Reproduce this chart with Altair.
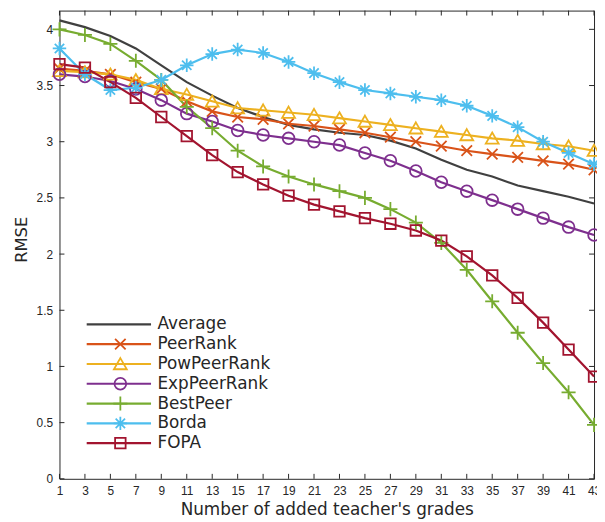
import altair as alt
import pandas as pd

# ---- data ----
x_vals = list(range(1, 44, 2))
series_names = ["Average", "PeerRank", "PowPeerRank", "ExpPeerRank", "BestPeer", "Borda", "FOPA"]

average = [4.08, 4.02, 3.94, 3.83, 3.68, 3.53, 3.41, 3.30, 3.22, 3.15, 3.11,
           3.08, 3.06, 3.01, 2.94, 2.84, 2.75, 2.69, 2.61, 2.56, 2.51, 2.45]
peerrank = [3.65, 3.63, 3.60, 3.53, 3.47, 3.36, 3.27, 3.22, 3.20, 3.16, 3.14,
            3.11, 3.08, 3.04, 3.00, 2.96, 2.92, 2.89, 2.86, 2.83, 2.80, 2.75]
powpeerrank = [3.63, 3.62, 3.60, 3.55, 3.47, 3.42, 3.36, 3.30, 3.28, 3.26, 3.24,
               3.21, 3.18, 3.15, 3.12, 3.09, 3.06, 3.03, 3.01, 2.98, 2.96, 2.92]
exppeerrank = [3.60, 3.58, 3.54, 3.47, 3.37, 3.25, 3.18, 3.10, 3.06, 3.03, 3.00,
               2.97, 2.90, 2.83, 2.74, 2.64, 2.56, 2.48, 2.40, 2.32, 2.24, 2.17]
bestpeer = [4.00, 3.95, 3.87, 3.72, 3.55, 3.31, 3.12, 2.92, 2.78, 2.69, 2.62,
            2.56, 2.50, 2.40, 2.28, 2.10, 1.86, 1.58, 1.30, 1.03, 0.77, 0.48]
borda = [3.83, 3.60, 3.46, 3.48, 3.55, 3.68, 3.78, 3.82, 3.79, 3.71, 3.61,
         3.53, 3.46, 3.43, 3.40, 3.37, 3.32, 3.23, 3.13, 3.00, 2.90, 2.80]
fopa = [3.69, 3.66, 3.53, 3.39, 3.22, 3.05, 2.88, 2.73, 2.62, 2.52, 2.44,
        2.38, 2.32, 2.27, 2.21, 2.12, 1.98, 1.81, 1.61, 1.39, 1.15, 0.91]

y_ticks = [0, 0.5, 1, 1.5, 2, 2.5, 3, 3.5, 4]

colors = ["#404040", "#D95319", "#EDB120", "#7E2F8E", "#77AC30", "#4DBEEE", "#A2142F"]
shapes = [
    "M0,0",
    "M-0.9,-0.9L0.9,0.9M-0.9,0.9L0.9,-0.9",
    "M0,-1L1.1,0.9L-1.1,0.9Z",
    "circle",
    "M-1.2,0L1.2,0M0,-1.2L0,1.2",
    "M-1.15,0L1.15,0M0,-1.15L0,1.15M-0.8,-0.8L0.8,0.8M-0.8,0.8L0.8,-0.8",
    "M-0.9,-0.9L0.9,-0.9L0.9,0.9L-0.9,0.9Z",
]

all_series = [average, peerrank, powpeerrank, exppeerrank, bestpeer, borda, fopa]
rows = []
for name, vals in zip(series_names, all_series):
    for xv, yv in zip(x_vals, vals):
        rows.append({"x": xv, "rmse": yv, "series": name, "series2": name})
df = pd.DataFrame(rows)

W, H = 540, 473
AX = "#262626"
FONT = "Liberation Sans"
WIDE = "DejaVu Sans"

xscale = alt.Scale(domain=[1, 43], nice=False, zero=False)
yscale = alt.Scale(domain=[0, 4.167], nice=False, zero=False)

x_axis = alt.Axis(values=x_vals, format="d", title="Number of added teacher's grades",
                  labelFlush=False, labelOverlap=False, labelPadding=7, titlePadding=5,
                  titleFontSize=17)
y_axis = alt.Axis(values=y_ticks, format="~g", title="RMSE", labelPadding=7, titlePadding=7,
                  titleFontSize=16.5, titleY=231)

xt = pd.DataFrame({"x": x_vals})
yt = pd.DataFrame({"rmse": y_ticks})

tick_x_bottom = alt.Chart(xt).mark_rule(color=AX, strokeWidth=1).encode(
    x=alt.X("x:Q", scale=xscale, axis=x_axis), y=alt.value(H), y2=alt.value(H - 5))
tick_x_top = alt.Chart(xt).mark_rule(color=AX, strokeWidth=1).encode(
    x=alt.X("x:Q", scale=xscale, axis=x_axis), y=alt.value(0), y2=alt.value(5))
tick_y_left = alt.Chart(yt).mark_rule(color=AX, strokeWidth=1).encode(
    y=alt.Y("rmse:Q", scale=yscale, axis=y_axis), x=alt.value(0), x2=alt.value(5))
tick_y_right = alt.Chart(yt).mark_rule(color=AX, strokeWidth=1).encode(
    y=alt.Y("rmse:Q", scale=yscale, axis=y_axis), x=alt.value(W), x2=alt.value(W - 5))

base = alt.Chart(df)

lines = base.mark_line(strokeWidth=2.2).encode(
    x=alt.X("x:Q", scale=xscale, axis=x_axis),
    y=alt.Y("rmse:Q", scale=yscale, axis=y_axis),
    stroke=alt.Stroke("series:N", sort=series_names, scale=alt.Scale(range=colors),
                      legend=alt.Legend(orient="none", legendX=26, legendY=307, title=None,
                                        symbolType="stroke", symbolSize=4225,
                                        symbolStrokeWidth=2.2, labelFontSize=17,
                                        labelFont=WIDE, labelColor=AX, clipHeight=20,
                                        rowPadding=0, padding=0, labelOffset=5)),
    order=alt.Order("x:Q"),
)

marker_legend = alt.Legend(orient="none", legendX=53, legendY=307, title=None,
                           symbolSize=140, symbolStrokeWidth=1.8, labelExpr="''",
                           labelFontSize=17, clipHeight=20, rowPadding=0, padding=0)

points = base.mark_point(filled=False, strokeWidth=1.8, size=140, opacity=1).encode(
    x=alt.X("x:Q", scale=xscale, axis=x_axis),
    y=alt.Y("rmse:Q", scale=yscale, axis=y_axis),
    color=alt.Color("series2:N", scale=alt.Scale(domain=series_names, range=colors),
                    legend=marker_legend),
    shape=alt.Shape("series2:N", scale=alt.Scale(domain=series_names, range=shapes),
                    legend=marker_legend),
)

chart = alt.layer(tick_x_bottom, tick_x_top, tick_y_left, tick_y_right, lines, points).properties(
    width=W, height=H,
    autosize=alt.AutoSizeParams(type="none"),
    padding={"left": 52, "top": 0, "right": 3, "bottom": 40},
).configure_view(
    stroke=AX, strokeWidth=1
).configure_axis(
    domain=False, grid=False, ticks=False,
    labelFont=FONT, labelFontSize=12, labelColor=AX,
    titleFont=WIDE, titleFontWeight="normal", titleColor=AX,
).configure_legend(
    labelFont=WIDE,
)

chart.save("out.html", embed_options={"renderer": "svg", "actions": False})
